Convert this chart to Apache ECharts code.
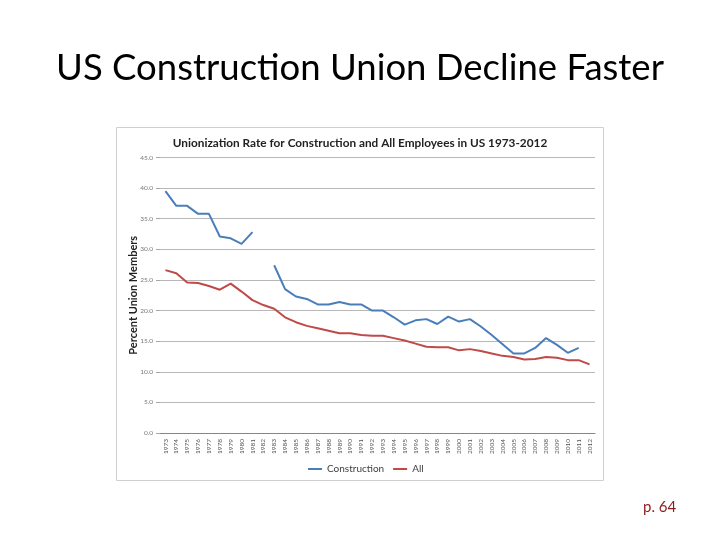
<!DOCTYPE html>
<html>
<head>
<meta charset="utf-8">
<script src="https://cdn.jsdelivr.net/npm/echarts@6/dist/echarts.min.js"></script>
<style>html,body{margin:0;padding:0;background:#fff;}#c{width:720px;height:540px;}</style>
</head>
<body>
<div id="c"></div>
<script>
var years = ['1973','1974','1975','1976','1977','1978','1979','1980','1981','1982','1983','1984','1985','1986','1987','1988','1989','1990','1991','1992','1993','1994','1995','1996','1997','1998','1999','2000','2001','2002','2003','2004','2005','2006','2007','2008','2009','2010','2011','2012'];
var construction = [39.5,37.1,37.1,35.8,35.8,32.1,31.8,30.9,32.8,null,27.4,23.5,22.3,21.9,21.0,21.0,21.4,21.0,21.0,20.0,20.0,18.9,17.7,18.4,18.6,17.8,19.0,18.2,18.6,17.4,16.0,14.5,13.0,13.0,13.9,15.5,14.4,13.1,13.9,null];
var allEmployees = [26.6,26.1,24.6,24.5,24.0,23.4,24.4,23.1,21.7,20.9,20.3,18.9,18.1,17.5,17.1,16.7,16.3,16.3,16.0,15.9,15.9,15.5,15.1,14.6,14.1,14.0,14.0,13.5,13.7,13.4,13.0,12.6,12.4,12.0,12.1,12.4,12.3,11.9,11.9,11.2];
var slideTitle = 'US Construction Union Decline Faster';
var chartTitle = 'Unionization Rate for Construction and All Employees in US 1973-2012';
var yAxisName = 'Percent Union Members';
var pageLabel = 'p. 64';

var chart = echarts.init(document.getElementById('c'), null, {renderer:'canvas'});
var font = 'Lato, "Open Sans", sans-serif';
chart.setOption({
  backgroundColor: '#ffffff',
  animation: false,
  textStyle: {fontFamily: font},
  graphic: [
    {type:'rect', shape:{x:116.5, y:127.5, width:487, height:353}, style:{fill:'#fff', stroke:'#cfcfcf', lineWidth:1}, z:-10},
    {type:'text', left:'center', top:50, style:{text:slideTitle, font:'36.5px Lato, sans-serif', fill:'#000'}},
    {type:'text', left:643, top:500, style:{text:pageLabel, font:'15px Lato, sans-serif', fill:'#8c1c1c'}}
  ],
  title: {
    text: chartTitle, left: 'center', top: 132,
    textStyle: {fontSize: 11.8, fontWeight: 'bold', color: '#222', fontFamily: font}
  },
  legend: {
    left: 303, top: 459, itemWidth: 14, itemHeight: 2, itemGap: 9,
    textStyle: {fontSize: 10, color: '#404040', fontFamily: font},
    data: [{name:'Construction', icon:'rect'}, {name:'All', icon:'rect'}]
  },
  grid: {left: 160, right: 125, top: 157.5, bottom: 107, containLabel: false},
  xAxis: {
    type: 'category', data: years, boundaryGap: true,
    axisLine: {show: true, lineStyle: {color: '#868686'}},
    axisTick: {show: false},
    axisLabel: {rotate: 90, fontSize: 6.5, color: '#555', margin: 6, interval: 0, fontFamily: font}
  },
  yAxis: {
    type: 'value', min: 0, max: 45, interval: 5,
    name: yAxisName, nameLocation: 'middle', nameGap: 21, nameRotate: 90, nameMoveOverlap: false,
    nameTextStyle: {fontSize: 11, fontWeight: 'bold', color: '#222', fontFamily: font, padding: [0,0,0,0]},
    axisLine: {show: false},
    axisTick: {show: true, length: 4, lineStyle: {color: '#a6a6a6'}},
    axisLabel: {fontSize: 6.5, color: '#777', margin: 7, formatter: function(v){return v.toFixed(1);}},
    splitLine: {lineStyle: {color: '#b8b8b8', width: 1}}
  },
  series: [
    {name:'Construction', type:'line', data: construction, symbol:'none', connectNulls:false,
     lineStyle:{color:'#4a7ebb', width:2}, itemStyle:{color:'#4a7ebb'}},
    {name:'All', type:'line', data: allEmployees, symbol:'none',
     lineStyle:{color:'#be4b48', width:2}, itemStyle:{color:'#be4b48'}}
  ]
});
</script>
</body>
</html>
